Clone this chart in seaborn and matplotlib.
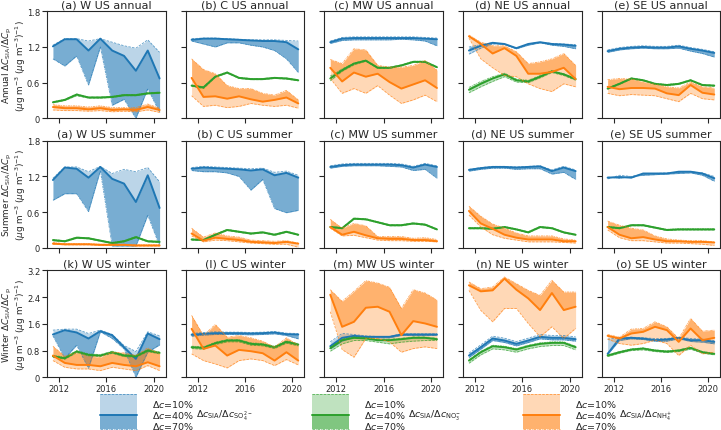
import matplotlib
matplotlib.use("Agg")
import matplotlib.pyplot as plt
import seaborn as sns
import pandas as pd
from matplotlib.patches import Rectangle
from matplotlib.lines import Line2D

sns.set_style("ticks")
plt.rcParams['font.family'] = ['DejaVu Sans']
plt.rcParams['mathtext.fontset'] = 'dejavusans'

years = [2011.5, 2012.5, 2013.5, 2014.5, 2015.5, 2016.5, 2017.5, 2018.5, 2019.5, 2020.5]
regions = ["W", "C", "MW", "NE", "SE"]
seasons = ["annual", "summer", "winter"]
letters = {"annual": ["a", "b", "c", "d", "e"], "summer": ["a", "b", "c", "d", "e"],
           "winter": ["k", "l", "m", "n", "o"]}
levels = ["10%", "40%", "70%"]
species = ["SO4", "NO3", "NH4"]
colors = {"SO4": "#1f77b4", "NO3": "#2ca02c", "NH4": "#ff7f0e"}

# each tuple: (dc=10%, dc=40%, dc=70%)
# ---------------- annual ----------------
w_ann_so4 = ([1.23, 1.34, 1.34, 1.30, 1.34, 1.28, 1.22, 1.18, 1.32, 1.11],
             [1.21, 1.33, 1.33, 1.14, 1.34, 1.14, 1.05, 0.80, 1.14, 0.67],
             [1.00, 0.88, 1.05, 0.56, 1.20, 0.22, 0.32, 0.00, 0.50, 0.10])
w_ann_no3 = ([0.26, 0.30, 0.38, 0.34, 0.34, 0.35, 0.38, 0.38, 0.41, 0.42],
             [0.27, 0.31, 0.40, 0.35, 0.35, 0.36, 0.39, 0.39, 0.42, 0.43],
             [0.28, 0.32, 0.41, 0.36, 0.36, 0.37, 0.40, 0.40, 0.43, 0.44])
w_ann_nh4 = ([0.14, 0.13, 0.13, 0.12, 0.13, 0.11, 0.12, 0.11, 0.14, 0.10],
             [0.19, 0.17, 0.17, 0.15, 0.17, 0.14, 0.15, 0.14, 0.19, 0.14],
             [0.23, 0.21, 0.21, 0.19, 0.21, 0.18, 0.18, 0.18, 0.24, 0.17])

c_ann_so4 = ([1.34, 1.35, 1.35, 1.34, 1.33, 1.32, 1.32, 1.32, 1.31, 1.30],
             [1.32, 1.34, 1.34, 1.33, 1.32, 1.31, 1.30, 1.30, 1.28, 1.16],
             [1.30, 1.25, 1.20, 1.27, 1.27, 1.23, 1.20, 1.14, 1.00, 0.77])
c_ann_no3 = ([0.54, 0.50, 0.69, 0.76, 0.67, 0.65, 0.65, 0.67, 0.66, 0.63],
             [0.55, 0.52, 0.70, 0.77, 0.68, 0.66, 0.66, 0.68, 0.67, 0.64],
             [0.56, 0.53, 0.71, 0.78, 0.69, 0.67, 0.67, 0.69, 0.68, 0.65])
c_ann_nh4 = ([0.38, 0.20, 0.22, 0.18, 0.20, 0.25, 0.22, 0.20, 0.22, 0.17],
             [0.68, 0.36, 0.37, 0.33, 0.37, 0.32, 0.28, 0.31, 0.35, 0.25],
             [1.00, 0.82, 0.75, 0.55, 0.50, 0.50, 0.42, 0.39, 0.47, 0.31])

mw_ann_so4 = ([1.30, 1.36, 1.37, 1.37, 1.37, 1.37, 1.37, 1.37, 1.36, 1.35],
              [1.28, 1.34, 1.35, 1.35, 1.35, 1.35, 1.35, 1.35, 1.34, 1.33],
              [1.26, 1.31, 1.32, 1.32, 1.32, 1.32, 1.33, 1.32, 1.30, 1.22])
mw_ann_no3 = ([0.63, 0.79, 0.90, 0.96, 0.84, 0.84, 0.88, 0.94, 0.94, 0.85],
              [0.67, 0.81, 0.92, 0.97, 0.85, 0.85, 0.89, 0.95, 0.95, 0.86],
              [0.71, 0.83, 0.93, 0.98, 0.86, 0.86, 0.90, 0.96, 0.96, 0.87])
mw_ann_nh4 = ([0.67, 0.42, 0.50, 0.42, 0.55, 0.39, 0.25, 0.31, 0.39, 0.28],
              [0.85, 0.62, 0.77, 0.70, 0.75, 0.61, 0.50, 0.57, 0.64, 0.51],
              [0.99, 0.92, 1.17, 1.15, 0.89, 0.86, 0.86, 0.89, 0.97, 0.81])

ne_ann_so4 = ([1.08, 1.18, 1.25, 1.25, 1.18, 1.25, 1.28, 1.26, 1.25, 1.24],
              [1.14, 1.22, 1.27, 1.25, 1.18, 1.25, 1.28, 1.25, 1.24, 1.22],
              [1.20, 1.24, 1.27, 1.24, 1.17, 1.23, 1.27, 1.23, 1.21, 1.17])
ne_ann_no3 = ([0.43, 0.53, 0.62, 0.70, 0.61, 0.60, 0.68, 0.77, 0.72, 0.64],
              [0.48, 0.58, 0.67, 0.74, 0.64, 0.62, 0.70, 0.79, 0.74, 0.66],
              [0.52, 0.62, 0.70, 0.76, 0.66, 0.64, 0.72, 0.80, 0.75, 0.67])
ne_ann_nh4 = ([1.35, 1.00, 0.85, 0.72, 0.70, 0.58, 0.50, 0.45, 0.58, 0.53],
              [1.38, 1.25, 1.09, 1.18, 1.05, 0.75, 0.75, 0.78, 0.85, 0.66],
              [1.40, 1.28, 1.22, 1.22, 1.12, 0.92, 0.95, 1.00, 1.09, 0.89])

se_ann_so4 = ([1.15, 1.19, 1.21, 1.22, 1.21, 1.21, 1.23, 1.19, 1.16, 1.12],
              [1.13, 1.17, 1.19, 1.20, 1.19, 1.19, 1.21, 1.17, 1.14, 1.10],
              [1.11, 1.15, 1.17, 1.18, 1.17, 1.17, 1.18, 1.13, 1.09, 1.03])
se_ann_no3 = ([0.49, 0.57, 0.66, 0.63, 0.57, 0.55, 0.57, 0.63, 0.55, 0.54],
              [0.50, 0.58, 0.67, 0.64, 0.58, 0.56, 0.58, 0.64, 0.56, 0.55],
              [0.51, 0.59, 0.68, 0.65, 0.59, 0.57, 0.59, 0.65, 0.57, 0.56])
se_ann_nh4 = ([0.42, 0.38, 0.40, 0.39, 0.38, 0.33, 0.28, 0.42, 0.33, 0.31],
              [0.53, 0.49, 0.51, 0.51, 0.50, 0.42, 0.39, 0.56, 0.43, 0.40],
              [0.65, 0.67, 0.66, 0.61, 0.57, 0.53, 0.51, 0.61, 0.53, 0.51])

# ---------------- summer ----------------
w_sum_so4 = ([1.17, 1.36, 1.36, 1.28, 1.37, 1.25, 1.32, 1.28, 1.35, 1.11],
             [1.14, 1.35, 1.33, 1.18, 1.36, 1.16, 1.08, 0.77, 1.22, 0.67],
             [0.80, 0.91, 0.91, 0.61, 1.30, 0.03, 0.03, 0.03, 0.55, 0.03])
w_sum_no3 = ([0.12, 0.10, 0.16, 0.15, 0.11, 0.07, 0.10, 0.17, 0.10, 0.09],
             [0.13, 0.11, 0.17, 0.16, 0.12, 0.08, 0.11, 0.18, 0.11, 0.10],
             [0.14, 0.12, 0.18, 0.17, 0.13, 0.09, 0.12, 0.19, 0.12, 0.11])
w_sum_nh4 = ([0.06, 0.05, 0.05, 0.05, 0.04, 0.04, 0.04, 0.03, 0.03, 0.03],
             [0.07, 0.06, 0.06, 0.06, 0.05, 0.05, 0.05, 0.04, 0.04, 0.04],
             [0.09, 0.07, 0.07, 0.07, 0.06, 0.06, 0.06, 0.05, 0.05, 0.05])

c_sum_so4 = ([1.35, 1.37, 1.36, 1.35, 1.34, 1.33, 1.34, 1.27, 1.29, 1.22],
             [1.33, 1.35, 1.34, 1.33, 1.32, 1.30, 1.32, 1.22, 1.26, 1.18],
             [1.30, 1.28, 1.28, 1.26, 1.20, 0.97, 1.15, 0.66, 0.59, 0.63])
c_sum_no3 = ([0.13, 0.12, 0.21, 0.29, 0.26, 0.23, 0.25, 0.21, 0.26, 0.21],
             [0.14, 0.13, 0.22, 0.30, 0.27, 0.24, 0.26, 0.22, 0.27, 0.22],
             [0.15, 0.14, 0.23, 0.31, 0.28, 0.25, 0.27, 0.23, 0.28, 0.23])
c_sum_nh4 = ([0.20, 0.10, 0.13, 0.12, 0.10, 0.08, 0.07, 0.06, 0.06, 0.01],
             [0.24, 0.12, 0.17, 0.15, 0.13, 0.10, 0.09, 0.08, 0.10, 0.07],
             [0.33, 0.18, 0.25, 0.20, 0.18, 0.13, 0.12, 0.11, 0.12, 0.08])

mw_sum_so4 = ([1.38, 1.41, 1.42, 1.42, 1.42, 1.42, 1.41, 1.37, 1.42, 1.38],
              [1.36, 1.39, 1.40, 1.40, 1.40, 1.40, 1.39, 1.35, 1.40, 1.36],
              [1.34, 1.37, 1.38, 1.38, 1.38, 1.37, 1.36, 1.30, 1.32, 1.17])
mw_sum_no3 = ([0.34, 0.32, 0.48, 0.47, 0.42, 0.37, 0.37, 0.40, 0.38, 0.30],
              [0.35, 0.33, 0.49, 0.48, 0.43, 0.38, 0.38, 0.41, 0.39, 0.31],
              [0.36, 0.34, 0.50, 0.49, 0.44, 0.39, 0.39, 0.42, 0.40, 0.32])
mw_sum_nh4 = ([0.33, 0.20, 0.21, 0.17, 0.13, 0.12, 0.12, 0.11, 0.11, 0.10],
              [0.35, 0.22, 0.27, 0.21, 0.16, 0.15, 0.15, 0.13, 0.13, 0.11],
              [0.48, 0.33, 0.41, 0.37, 0.19, 0.19, 0.19, 0.16, 0.17, 0.14])

ne_sum_so4 = ([1.32, 1.35, 1.37, 1.37, 1.36, 1.37, 1.38, 1.31, 1.37, 1.31],
              [1.31, 1.34, 1.36, 1.36, 1.35, 1.36, 1.37, 1.29, 1.35, 1.29],
              [1.29, 1.32, 1.34, 1.34, 1.32, 1.33, 1.33, 1.24, 1.27, 1.15])
ne_sum_no3 = ([0.32, 0.32, 0.31, 0.34, 0.30, 0.25, 0.34, 0.32, 0.25, 0.21],
              [0.33, 0.33, 0.32, 0.35, 0.31, 0.26, 0.35, 0.33, 0.26, 0.22],
              [0.34, 0.34, 0.33, 0.36, 0.32, 0.27, 0.36, 0.34, 0.27, 0.23])
ne_sum_nh4 = ([0.55, 0.35, 0.22, 0.16, 0.13, 0.10, 0.10, 0.10, 0.09, 0.08],
              [0.62, 0.41, 0.32, 0.22, 0.17, 0.14, 0.14, 0.14, 0.11, 0.11],
              [0.70, 0.53, 0.40, 0.33, 0.25, 0.20, 0.20, 0.20, 0.15, 0.13])

se_sum_so4 = ([1.16, 1.22, 1.20, 1.24, 1.25, 1.26, 1.27, 1.28, 1.26, 1.20],
              [1.18, 1.19, 1.18, 1.25, 1.25, 1.25, 1.28, 1.28, 1.25, 1.17],
              [1.19, 1.17, 1.20, 1.22, 1.23, 1.24, 1.25, 1.26, 1.22, 1.12])
se_sum_no3 = ([0.34, 0.32, 0.37, 0.37, 0.33, 0.29, 0.30, 0.30, 0.30, 0.30],
              [0.35, 0.33, 0.38, 0.38, 0.34, 0.30, 0.31, 0.31, 0.31, 0.31],
              [0.36, 0.34, 0.39, 0.39, 0.35, 0.31, 0.32, 0.32, 0.32, 0.32])
se_sum_nh4 = ([0.30, 0.17, 0.12, 0.12, 0.10, 0.08, 0.08, 0.07, 0.06, 0.04],
              [0.35, 0.22, 0.16, 0.18, 0.14, 0.11, 0.11, 0.10, 0.10, 0.09],
              [0.45, 0.38, 0.33, 0.30, 0.20, 0.15, 0.13, 0.12, 0.12, 0.10])

# ---------------- winter ----------------
w_win_so4 = ([1.41, 1.44, 1.44, 1.31, 1.41, 1.28, 0.95, 0.77, 1.36, 1.24],
             [1.28, 1.41, 1.34, 1.16, 1.38, 1.26, 0.90, 0.55, 1.31, 1.14],
             [1.24, 0.57, 0.96, 0.27, 1.36, 1.16, 0.85, 0.00, 0.75, 0.97])
w_win_no3 = ([0.60, 0.54, 0.74, 0.64, 0.62, 0.72, 0.62, 0.60, 0.77, 0.70],
             [0.63, 0.57, 0.77, 0.67, 0.65, 0.75, 0.65, 0.63, 0.80, 0.73],
             [0.66, 0.60, 0.80, 0.70, 0.68, 0.78, 0.68, 0.66, 0.83, 0.76])
w_win_nh4 = ([0.50, 0.30, 0.25, 0.25, 0.20, 0.30, 0.25, 0.20, 0.35, 0.20],
             [0.65, 0.43, 0.37, 0.37, 0.33, 0.43, 0.37, 0.33, 0.45, 0.33],
             [0.93, 0.63, 0.73, 0.63, 0.60, 0.75, 0.73, 0.65, 0.88, 0.70])

c_win_so4 = ([1.31, 1.34, 1.36, 1.35, 1.35, 1.34, 1.35, 1.37, 1.32, 1.31],
             [1.27, 1.30, 1.32, 1.32, 1.32, 1.31, 1.32, 1.34, 1.29, 1.28],
             [1.23, 1.26, 1.28, 1.28, 1.28, 1.27, 1.28, 1.30, 1.25, 1.15])
c_win_no3 = ([0.86, 0.84, 0.98, 1.06, 1.06, 0.96, 0.94, 0.86, 1.02, 0.94],
             [0.90, 0.88, 1.02, 1.10, 1.10, 1.00, 0.98, 0.90, 1.06, 0.98],
             [0.93, 0.91, 1.05, 1.13, 1.13, 1.03, 1.01, 0.93, 1.09, 1.01])
c_win_nh4 = ([0.70, 0.50, 0.40, 0.28, 0.50, 0.55, 0.50, 0.35, 0.53, 0.37],
             [1.45, 0.85, 0.95, 0.65, 0.82, 0.78, 0.72, 0.50, 0.75, 0.50],
             [1.85, 1.25, 1.58, 1.20, 1.25, 1.18, 1.08, 0.90, 1.18, 0.96])

mw_win_so4 = ([1.06, 1.31, 1.28, 1.24, 1.22, 1.22, 1.30, 1.30, 1.30, 1.30],
              [0.93, 1.18, 1.24, 1.21, 1.21, 1.21, 1.28, 1.28, 1.28, 1.28],
              [0.85, 1.08, 1.20, 1.20, 1.18, 1.18, 1.25, 1.25, 1.25, 1.25])
mw_win_no3 = ([0.78, 1.00, 1.10, 1.10, 1.05, 1.00, 1.05, 1.08, 1.10, 1.10],
              [0.87, 1.11, 1.18, 1.16, 1.11, 1.11, 1.14, 1.18, 1.18, 1.14],
              [0.90, 1.14, 1.21, 1.19, 1.14, 1.14, 1.17, 1.21, 1.21, 1.17])
mw_win_nh4 = ([1.96, 0.83, 0.60, 1.16, 1.16, 1.06, 0.75, 0.86, 0.91, 0.86],
              [2.47, 1.51, 1.66, 2.08, 2.11, 1.96, 1.26, 1.68, 1.61, 1.51],
              [2.62, 2.27, 2.57, 2.89, 2.82, 2.69, 2.06, 2.62, 2.52, 2.31])

ne_win_so4 = ([0.72, 0.97, 1.23, 1.17, 1.07, 1.17, 1.28, 1.25, 1.25, 1.21],
              [0.65, 0.90, 1.16, 1.10, 1.00, 1.10, 1.21, 1.18, 1.18, 1.14],
              [0.59, 0.84, 1.10, 1.04, 0.94, 1.04, 1.15, 1.12, 1.12, 1.08])
ne_win_no3 = ([0.42, 0.67, 0.85, 0.82, 0.75, 0.85, 0.92, 0.95, 0.95, 0.82],
              [0.50, 0.75, 0.93, 0.90, 0.83, 0.93, 1.00, 1.03, 1.03, 0.90],
              [0.53, 0.78, 0.96, 0.93, 0.86, 0.96, 1.03, 1.06, 1.06, 0.93])
ne_win_nh4 = ([2.60, 2.00, 1.66, 2.06, 2.06, 1.61, 1.21, 1.51, 1.16, 1.46],
              [2.75, 2.57, 2.60, 2.95, 2.62, 2.36, 2.01, 2.52, 2.01, 2.11],
              [2.85, 2.65, 2.70, 3.00, 2.80, 2.60, 2.45, 2.90, 2.55, 2.55])

se_win_so4 = ([1.14, 1.18, 1.20, 1.18, 1.16, 1.16, 1.20, 1.16, 1.14, 1.10],
              [0.70, 1.16, 1.18, 1.16, 1.11, 1.13, 1.18, 1.11, 1.11, 1.06],
              [0.68, 1.10, 1.15, 1.13, 1.08, 1.08, 1.15, 1.07, 1.05, 1.00])
se_win_no3 = ([0.62, 0.72, 0.80, 0.82, 0.77, 0.74, 0.77, 0.84, 0.72, 0.67],
              [0.65, 0.75, 0.83, 0.86, 0.80, 0.77, 0.80, 0.88, 0.75, 0.70],
              [0.67, 0.77, 0.85, 0.88, 0.82, 0.79, 0.82, 0.90, 0.77, 0.72])
se_win_nh4 = ([1.14, 1.01, 0.96, 1.01, 1.11, 1.01, 0.65, 0.96, 0.70, 0.75],
              [1.24, 1.16, 1.31, 1.36, 1.51, 1.41, 1.06, 1.46, 1.11, 1.18],
              [1.28, 1.20, 1.44, 1.46, 1.66, 1.51, 1.16, 1.76, 1.38, 1.41])

panel_data = {
    ("W", "annual"): (w_ann_so4, w_ann_no3, w_ann_nh4),
    ("C", "annual"): (c_ann_so4, c_ann_no3, c_ann_nh4),
    ("MW", "annual"): (mw_ann_so4, mw_ann_no3, mw_ann_nh4),
    ("NE", "annual"): (ne_ann_so4, ne_ann_no3, ne_ann_nh4),
    ("SE", "annual"): (se_ann_so4, se_ann_no3, se_ann_nh4),
    ("W", "summer"): (w_sum_so4, w_sum_no3, w_sum_nh4),
    ("C", "summer"): (c_sum_so4, c_sum_no3, c_sum_nh4),
    ("MW", "summer"): (mw_sum_so4, mw_sum_no3, mw_sum_nh4),
    ("NE", "summer"): (ne_sum_so4, ne_sum_no3, ne_sum_nh4),
    ("SE", "summer"): (se_sum_so4, se_sum_no3, se_sum_nh4),
    ("W", "winter"): (w_win_so4, w_win_no3, w_win_nh4),
    ("C", "winter"): (c_win_so4, c_win_no3, c_win_nh4),
    ("MW", "winter"): (mw_win_so4, mw_win_no3, mw_win_nh4),
    ("NE", "winter"): (ne_win_so4, ne_win_no3, ne_win_nh4),
    ("SE", "winter"): (se_win_so4, se_win_no3, se_win_nh4),
}

rows = []
for (reg, sea), trip in panel_data.items():
    for sp, vals in zip(species, trip):
        for lev, arr in zip(levels, vals):
            for yr, v in zip(years, arr):
                rows.append(dict(region=reg, season=sea, species=sp, level=lev, year=yr, value=v))
df = pd.DataFrame(rows)

W, H = 721, 431
fig, axes = plt.subplots(3, 5, figsize=(W / 100, H / 100), dpi=100, sharex=True)
fig.subplots_adjust(left=47 / W, right=720.2 / W, top=1 - 12.3 / H, bottom=1 - 378.3 / H,
                    wspace=0.17, hspace=0.21)

TICK_FS = 6.0
TITLE_FS = 8
ylabels = {"annual": "Annual", "summer": "Summer", "winter": "Winter"}
DASH = (0, (3, 1.5))
DASHDOT = (0, (3, 1, 1, 1))

for r, sea in enumerate(seasons):
    for c, reg in enumerate(regions):
        ax = axes[r, c]
        sub = df[(df.region == reg) & (df.season == sea)]
        for sp in species:
            s = sub[sub.species == sp]
            d10 = s[s.level == "10%"].sort_values("year")
            d40 = s[s.level == "40%"].sort_values("year")
            d70 = s[s.level == "70%"].sort_values("year")
            col = colors[sp]
            ax.fill_between(d40.year, d10.value.values, d40.value.values, color=col, alpha=0.3, lw=0)
            ax.fill_between(d40.year, d40.value.values, d70.value.values, color=col, alpha=0.6, lw=0)
        for sp in species:
            s = sub[sub.species == sp]
            col = colors[sp]
            sns.lineplot(data=s[s.level == "10%"], x="year", y="value", ax=ax, color=col,
                         lw=0.6, alpha=0.7, linestyle=DASH, legend=False)
            sns.lineplot(data=s[s.level == "70%"], x="year", y="value", ax=ax, color=col,
                         lw=0.6, alpha=0.7, linestyle=DASHDOT, legend=False)
            sns.lineplot(data=s[s.level == "40%"], x="year", y="value", ax=ax, color=col,
                         lw=1.4, legend=False)
        ax.set_xlim(2011, 2021)
        ax.set_xticks([2012, 2016, 2020])
        if r < 2:
            ax.set_ylim(0, 1.8)
            ax.set_yticks([0, 0.6, 1.2, 1.8])
            ytl = ["0", "0.6", "1.2", "1.8"]
        else:
            ax.set_ylim(0, 3.2)
            ax.set_yticks([0, 0.8, 1.6, 2.4, 3.2])
            ytl = ["0", "0.8", "1.6", "2.4", "3.2"]
        ax.set_ylabel("")
        ax.set_xlabel("")
        if c == 0:
            ax.set_yticklabels(ytl)
            pos = ax.get_position()
            fig.text(1.0 / W, (pos.y0 + pos.y1) / 2,
                     ylabels[sea] + r" $\Delta C_{\rm SIA}/\Delta C_{\rm p}$" + "\n"
                     + r"($\mu$g m$^{-3}$ ($\mu$g m$^{-3}$)$^{-1}$)",
                     fontsize=6.4, linespacing=0.95, rotation=90, ha="left", va="center",
                     multialignment="center")
        else:
            ax.tick_params(labelleft=False)
        ax.tick_params(labelsize=TICK_FS, length=3.5, width=0.8, pad=1.5)
        if r == 2:
            ax.set_xticklabels(["2012", "2016", "2020"])
        ax.set_title(f"({letters[sea][c]}) {reg} US {sea}", fontsize=TITLE_FS, pad=3)
        for sp_ in ax.spines.values():
            sp_.set_linewidth(0.8)

# legend drawn in pixel space on an overlay axes
lax = fig.add_axes([0, 0, 1, 1], zorder=-1)
lax.set_xlim(0, W)
lax.set_ylim(H, 0)
lax.axis("off")
leg_x = {"SO4": 100, "NO3": 312, "NH4": 523}
leg_lbl = {"SO4": r"$\Delta c_{\rm SIA}/\Delta c_{\rm SO_4^{2-}}$",
           "NO3": r"$\Delta c_{\rm SIA}/\Delta c_{\rm NO_3^{-}}$",
           "NH4": r"$\Delta c_{\rm SIA}/\Delta c_{\rm NH_4^{+}}$"}
hw, ytop, ymid, ybot = 37, 395, 416.5, 430
for sp in species:
    x0 = leg_x[sp]
    col = colors[sp]
    lax.add_patch(Rectangle((x0, ytop), hw, ymid - ytop, color=col, alpha=0.3, lw=0))
    lax.add_patch(Rectangle((x0, ymid), hw, ybot - ymid, color=col, alpha=0.6, lw=0))
    lax.add_line(Line2D([x0, x0 + hw], [ytop, ytop], color=col, lw=0.6, alpha=0.7, ls=DASH))
    lax.add_line(Line2D([x0, x0 + hw], [ybot, ybot], color=col, lw=0.6, alpha=0.7, ls=DASHDOT))
    lax.add_line(Line2D([x0, x0 + hw], [ymid, ymid], color=col, lw=1.4))
    for yy, t in zip([405, 416, 426.5], [r"$\Delta c$=10%", r"$\Delta c$=40%", r"$\Delta c$=70%"]):
        lax.text(x0 + 52, yy, t, fontsize=6.8, va="center", ha="left")
    lax.text(x0 + 96, 416, leg_lbl[sp], fontsize=6.8, va="center", ha="left")

fig.savefig("out.png", dpi=100)
